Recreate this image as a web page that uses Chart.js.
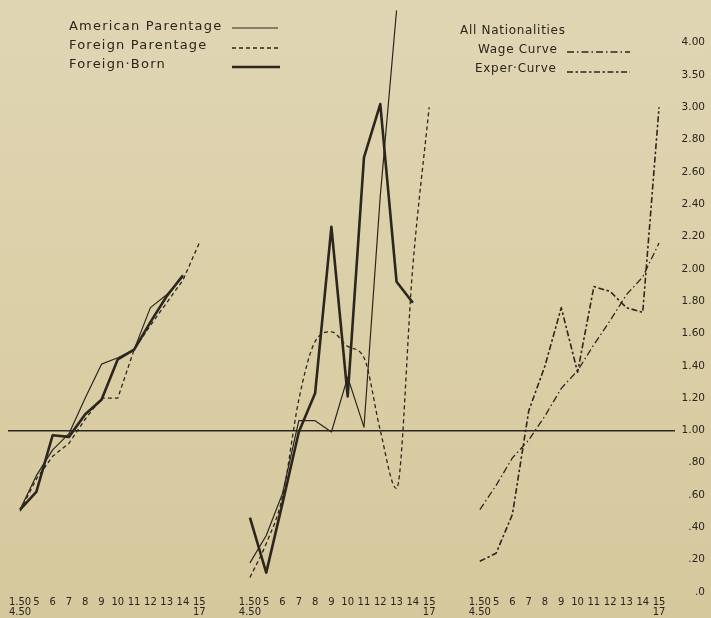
<!DOCTYPE html>
<html>
<head>
<meta charset="utf-8">
<script src="https://cdn.jsdelivr.net/npm/chart.js@4.4.1/dist/chart.umd.min.js"></script>
<style>
html,body{margin:0;padding:0;}
body{width:711px;height:618px;position:relative;overflow:hidden;
  background:linear-gradient(180deg,#e0d6b4 0%,#dbcfa7 50%,#d6c89d 100%);
  font-family:"DejaVu Sans",sans-serif;color:#2a251d;}
#wrap{position:absolute;left:0;top:0;width:711px;height:618px;}
.lg{position:absolute;font-size:13px;letter-spacing:1.2px;white-space:nowrap;line-height:14px;}
.lg.r{font-size:12px;letter-spacing:0.7px;}
</style>
</head>
<body>
<div id="wrap"><canvas id="c" width="711" height="618"></canvas></div>
<div class="lg" style="left:69px;top:19px">American Parentage</div>
<div class="lg" style="left:69px;top:38px">Foreign Parentage</div>
<div class="lg" style="left:69px;top:57px">Foreign·Born</div>
<div class="lg r" style="left:460px;top:23px">All Nationalities</div>
<div class="lg r" style="left:478px;top:42px">Wage Curve</div>
<div class="lg r" style="left:475px;top:61px">Exper·Curve</div>
<script>
// ---- tick labels ----
const xTickLabels = ['1.50','5','6','7','8','9','10','11','12','13','14','15'];
const xTickSubLabels = ['4.50','','','','','','','','','','','17'];
const yTickLabels = ['.0','.20','.40','.60','.80','1.00','1.20','1.40','1.60','1.80','2.00','2.20','2.40','2.60','2.80','3.00','3.50','4.00'];

// ---- series (left panel) ----
const panel1American         = [0.51,0.72,0.88,0.98,1.20,1.41,1.45,1.50,1.76,1.84,1.95,null];
const panel1ForeignParentage = [0.50,0.70,0.84,0.92,1.07,1.20,1.20,1.50,1.65,1.79,1.93,2.16];
const panel1ForeignBorn      = [0.51,0.62,0.97,0.96,1.10,1.19,1.44,1.50,1.67,1.83,1.96,null];
// ---- series (middle panel) ----
const panel2American         = [0.18,0.35,0.61,1.06,1.06,0.99,1.33,1.02,2.45,4.50,null,null];
const panel2ForeignParentage = [0.09,0.30,0.59,1.19,1.55,1.61,1.52,1.45,1.00,0.64,2.02,3.00];
const panel2ForeignBorn      = [0.46,0.12,0.55,0.99,1.23,2.26,1.21,2.69,3.05,1.92,1.79,null];
// ---- series (right panel: all nationalities) ----
const allWageCurve  = [0.51,0.66,0.83,0.94,1.09,1.26,1.37,1.53,1.68,1.84,1.95,2.16];
const allExperCurve = [0.19,0.24,0.48,1.12,1.40,1.76,1.36,1.89,1.86,1.76,1.73,3.00];

// ---- layout helpers ----
const PANEL_SHIFT = 14.11;
const INK = '#2b261e';
// y axis: steps of .20 up to 3.00, then steps of .50
function toScale(v){ return v <= 3 ? v/0.2 : 15 + (v-3)/0.5; }
function pts(arr, p){
  const out = [];
  arr.forEach((v,i)=>{ if(v!==null) out.push({x:p*PANEL_SHIFT+i, y:toScale(v)}); });
  return out;
}
function ds(label, arr, p, style){
  return Object.assign({label, data:pts(arr,p), borderColor:INK, backgroundColor:INK,
    pointRadius:0, tension:0, fill:false, borderJoinStyle:'round'}, style);
}
const S_AM = {borderWidth:1.2};
const S_FP = {borderWidth:1.3, borderDash:[4,3]};
const S_FB = {borderWidth:2.6};
const S_WG = {borderWidth:1.3, borderDash:[7,3,1.5,3]};
const S_EX = {borderWidth:1.6, borderDash:[6,2.5,2.5,2.5]};

const datasets = [
  ds('American Parentage', panel1American, 0, S_AM),
  ds('Foreign Parentage', panel1ForeignParentage, 0, S_FP),
  ds('Foreign-Born', panel1ForeignBorn, 0, S_FB),
  ds('American Parentage', panel2American, 1, S_AM),
  ds('Foreign Parentage', panel2ForeignParentage, 1, Object.assign({cubicInterpolationMode:'monotone'}, S_FP)),
  ds('Foreign-Born', panel2ForeignBorn, 1, S_FB),
  ds('Wage Curve', allWageCurve, 2, S_WG),
  ds('Exper-Curve', allExperCurve, 2, S_EX)
];

const legendSamples = {
  id:'legendSamples',
  afterDraw(chart){
    const c = chart.ctx;
    const items = [
      [232,278,28,S_AM],[232,280,48,S_FP],[232,280,67,S_FB],
      [567,630,52,S_WG],[567,630,72,S_EX]
    ];
    c.save();
    c.strokeStyle = INK;
    items.forEach(([x1,x2,y,s])=>{
      c.lineWidth = s.borderWidth;
      c.setLineDash(s.borderDash || []);
      c.beginPath(); c.moveTo(x1,y); c.lineTo(x2,y); c.stroke();
    });
    c.restore();
  }
};

new Chart(document.getElementById('c'), {
  type:'line',
  data:{datasets},
  plugins:[legendSamples],
  options:{
    responsive:false, animation:false, devicePixelRatio:1,
    layout:{padding:{left:8,top:0,right:6,bottom:0}},
    plugins:{legend:{display:false}, tooltip:{enabled:false}},
    scales:{
      x:{
        type:'linear', min:-0.74, max:40.2,
        afterBuildTicks(scale){
          const t=[];
          for(let p=0;p<3;p++) for(let i=0;i<xTickLabels.length;i++) t.push({value:p*PANEL_SHIFT+i});
          scale.ticks=t;
        },
        afterFit(scale){ scale.height = 26; },
        grid:{display:false, drawTicks:false},
        border:{display:false},
        ticks:{
          autoSkip:false, maxRotation:0, minRotation:0, padding:5, color:'#2a251d',
          font:{family:'"DejaVu Sans", sans-serif', size:10, lineHeight:1.0},
          callback(value){
            const p = Math.floor((value+0.01)/PANEL_SHIFT);
            const i = Math.round(value - p*PANEL_SHIFT);
            const sub = xTickSubLabels[i];
            return sub ? [xTickLabels[i], sub] : xTickLabels[i];
          }
        }
      },
      y:{
        type:'linear', position:'right', min:0, max:18.0,
        afterBuildTicks(scale){
          scale.ticks = yTickLabels.map((_,i)=>({value:i}));
        },
        afterFit(scale){ scale.width = 30; },
        grid:{
          drawTicks:false,
          color(ctx){ return (ctx.tick && ctx.tick.value===5) ? INK : 'rgba(0,0,0,0)'; },
          lineWidth:1.6
        },
        border:{display:false},
        ticks:{
          crossAlign:'far', padding:4, color:'#2a251d',
          font:{family:'"DejaVu Sans", sans-serif', size:10.5},
          callback(value){ return yTickLabels[value] !== undefined ? yTickLabels[value] : null; }
        }
      }
    }
  }
});
</script>
</body>
</html>
